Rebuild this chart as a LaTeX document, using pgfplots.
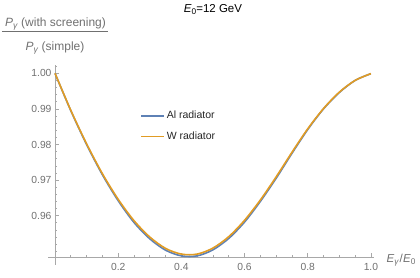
\documentclass[border=0pt]{standalone}
\usepackage{fontspec}
\setmainfont{Liberation Sans}
\usepackage{pgfplots}
\pgfplotsset{compat=1.18}
\usepackage{pgfplotstable}
\definecolor{mblue}{HTML}{5E81B5}
\definecolor{morange}{HTML}{E19C24}
\definecolor{axgray}{HTML}{A8A8A8}
\definecolor{lblgray}{HTML}{707070}
\newcommand{\sub}[1]{\raisebox{-0.35ex}{\fontsize{0.72em}{1em}\selectfont #1}}
\pgfplotstableread{
x W Al
0.00 1.0000 1.0000
0.05 0.9896 0.9895
0.10 0.9802 0.9800
0.15 0.9718 0.9715
0.20 0.9646 0.9642
0.25 0.9586 0.9581
0.30 0.9540 0.9535
0.35 0.9508 0.9503
0.40 0.9492 0.9487
0.45 0.9492 0.9487
0.50 0.9509 0.9504
0.55 0.9541 0.9536
0.60 0.9587 0.9582
0.65 0.9644 0.9640
0.70 0.9709 0.9705
0.75 0.9778 0.9775
0.80 0.9844 0.9842
0.85 0.9901 0.9900
0.90 0.9947 0.9946
0.95 0.9980 0.9980
1.00 0.9999 0.9999
}\data
\begin{document}
\begin{tikzpicture}
\begin{axis}[
  scale only axis, width=319.4pt, height=192.2pt,
  xmin=0, xmax=1.011, ymin=0.9483, ymax=1.0023,
  axis x line=bottom, axis y line=left,
  axis line style={-, axgray, line width=0.6pt},
  tick align=inside,
  xtick={0.2,0.4,0.6,0.8,1.0},
  minor xtick={0.05,0.1,0.15,0.25,0.3,0.35,0.45,0.5,0.55,0.65,0.7,0.75,0.85,0.9,0.95},
  ytick={0.96,0.97,0.98,0.99,1.00},
  minor ytick={0.950,0.952,0.954,0.956,0.958,0.962,0.964,0.966,0.968,0.972,0.974,0.976,0.978,0.982,0.984,0.986,0.988,0.992,0.994,0.996,0.998,1.002},
  major tick length=4pt, minor tick length=2.3pt,
  tick style={axgray, line width=0.6pt},
  scaled ticks=false,
  ticklabel style={font=\fontsize{10.3}{12}\selectfont, text=lblgray},
  xticklabel style={yshift=-2pt},
  /pgf/number format/assume math mode=true,
  xticklabel style={/pgf/number format/.cd, fixed, fixed zerofill, precision=1},
  yticklabel style={/pgf/number format/.cd, fixed, fixed zerofill, precision=2},
  clip=false,
  legend style={at={(axis cs:0.2596,0.99053)}, anchor=north west, draw=none, fill=none,
    font=\fontsize{10.5}{12}\selectfont, text=black!85, row sep=7.5pt, cells={anchor=west}},
  legend image code/.code={\path (0pt,0pt) -- (23pt,0pt);\draw[#1] (0pt,0pt) -- (21pt,0pt);},
]
\draw[axgray, line width=0.6pt] (axis cs:-0.022,0.9483) -- (axis cs:0,0.9483);
\draw[axgray, line width=0.6pt] (axis cs:0,0.9483) -- (axis cs:0,0.9461);
\addplot[mblue, line width=1.6pt, smooth] table[x=x, y=Al] {\data};
\addlegendentry{Al radiator}
\addplot[morange, line width=1.6pt, smooth] table[x=x, y=W] {\data};
\addlegendentry{W radiator}
\end{axis}
\begin{scope}[shift={(current axis.south west)}, xshift=-55pt, yshift=257.3pt, x=1pt, y=-1pt]
\path (0,0) rectangle (420,278);
\node[font=\fontsize{11.5}{13}\selectfont, anchor=base] at (213,12.5) {\textit{E}\sub{0}=12 GeV};
\node[font=\fontsize{12}{14}\selectfont, text=lblgray, anchor=base] at (55.5,26.7) {\textit{P}\sub{\textit{γ}} (with screening)};
\draw[lblgray, line width=0.6pt] (2,31.7) -- (108.3,31.7);
\node[font=\fontsize{12}{14}\selectfont, text=lblgray, anchor=base] at (55,50.7) {\textit{P}\sub{\textit{γ}} (simple)};
\node[font=\fontsize{11.5}{13}\selectfont, text=lblgray, anchor=base west, inner sep=0pt] at (386.5,262.3) {\textit{E}\sub{\textit{γ}}\kern0.5pt/\kern0.5pt\textit{E}\sub{0}};
\end{scope}
\end{tikzpicture}
\end{document}
